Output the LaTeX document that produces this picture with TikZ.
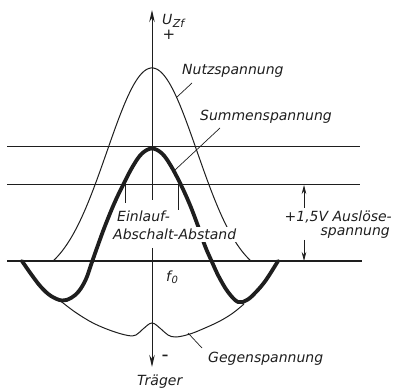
\documentclass[tikz,border=0pt]{standalone}
\usepackage{fontspec}
\newfontfamily\lab{DejaVu Sans}
\usetikzlibrary{arrows.meta}
\definecolor{ink}{HTML}{1E1E1E}
\begin{document}
\begin{tikzpicture}[x=1pt,y=-1pt,
  thinline/.style={draw=ink,line width=1pt},
  leader/.style={draw=ink,line width=0.7pt},
  thickline/.style={draw=ink,line width=3.8pt,line cap=round,line join=round},
  lbl/.style={font=\lab\itshape\fontsize{14}{16}\selectfont,text=ink,inner sep=0pt},
  cover/.style={lbl,fill=white,inner sep=2pt},
  axistip/.style={-{Stealth[length=12pt,width=5.5pt]}},
  smalltip/.style={-{Stealth[length=9pt,width=4.5pt]}}]
\useasboundingbox (0,0) rectangle (407,390);
% horizontal lines
\coordinate (h1l) at (7,147);  \coordinate (h1r) at (360,147);
\coordinate (h2l) at (7,185);  \coordinate (h2r) at (360,185);
\coordinate (h3l) at (7,261);  \coordinate (h3r) at (362,261);
\draw[thinline] (h1l) -- (h1r);
\draw[thinline] (h2l) -- (h2r);
\draw[thinline] (h3l) -- (h3r);
% Nutzspannung (thin bell)
\draw[thinline] plot[domain=-99:99,samples=90,smooth] ({152+\x},{261-211.9*(exp(-(\x*\x)/4050)-0.089)});
% Summenspannung (thick)
\draw[thickline] plot[smooth,tension=0.6] coordinates {(22,261) (31,274) (41,287) (51,296) (62,300.5) (71,298) (79,291) (86,279) (92,262) (98,245) (105,226) (114,204) (123,185) (133,166) (142,153.5) (152,148.5) (162,153.5) (171,166) (181,185) (190,205) (198,226) (205,246) (212,262) (219,277) (228,292) (238,302) (247,300) (256,292) (266,280) (278,261)};
% Gegenspannung (thin)
\draw[thinline] plot[smooth,tension=0.6] coordinates {(60,300.5) (75,312) (93,323) (112,331) (128,335.5) (136,335) (143,329) (152,323) (161,329) (168,335) (176,337) (190,334) (205,328) (220,321) (233,313) (244,304)};
% axis
\coordinate (atop) at (152,10);   \coordinate (abrk1) at (152,200);
\coordinate (abrk2) at (152,248); \coordinate (abot) at (152,367);
\draw[thinline,axistip] (abrk1) -- (atop);
\draw[thinline,axistip] (abrk2) -- (abot);
% Einlauf/Abschalt ticks
\coordinate (t1a) at (125,185); \coordinate (t1b) at (125,203);
\coordinate (t2a) at (178,185); \coordinate (t2b) at (178,210);
\draw[leader] (t1a) -- (t1b);
\draw[leader] (t2a) -- (t2b);
% 1,5 V arrow
\coordinate (v1) at (304,208); \coordinate (v1t) at (304,185);
\coordinate (v2) at (304,240); \coordinate (v2t) at (304,261);
\draw[leader,smalltip] (v1) -- (v1t);
\draw[leader,smalltip] (v2) -- (v2t);
% leader lines
\coordinate (ln1) at (192,83);  \coordinate (ln2) at (177,97);
\coordinate (ls1) at (220,128); \coordinate (ls2) at (175,170);
\coordinate (lg1) at (188,333); \coordinate (lg2) at (202,348);
\draw[leader] (ln1) -- (ln2);
\draw[leader] (ls1) -- (ls2);
\draw[leader] (lg1) -- (lg2);
% labels
\node[lbl,anchor=base west] (uzf) at (162,25) {U\kern0.5pt\raisebox{-2.5pt}{\fontsize{11}{12}\selectfont Zf}};
\node[lbl,font=\lab\fontsize{15}{15}\selectfont] (plus) at (169,35) {+};
\node[lbl,anchor=base west] (nutz) at (182,75) {Nutzspannung};
\node[lbl,anchor=base west] (summ) at (200,121) {Summenspannung};
\node[cover,anchor=base west] (einl) at (115,222) {Einlauf-};
\node[cover,anchor=base west] (absch) at (111,240) {Abschalt-Abstand};
\node[lbl,anchor=base east] (ausl) at (392,222) {+1,5V Auslöse-};
\node[lbl,anchor=base east] (span) at (390,236) {spannung};
\node[lbl,anchor=base west] (f0) at (166,281) {f\kern0.5pt\raisebox{-2pt}{\fontsize{10}{11}\selectfont 0}};
\node[lbl,anchor=base west] (gegen) at (208,362) {Gegenspannung};
\node[lbl,font=\lab\bfseries\fontsize{13}{13}\selectfont] (minus) at (165,357) {–};
\node[lbl,anchor=base west] (trag) at (137,385) {Träger};
\end{tikzpicture}
\end{document}
